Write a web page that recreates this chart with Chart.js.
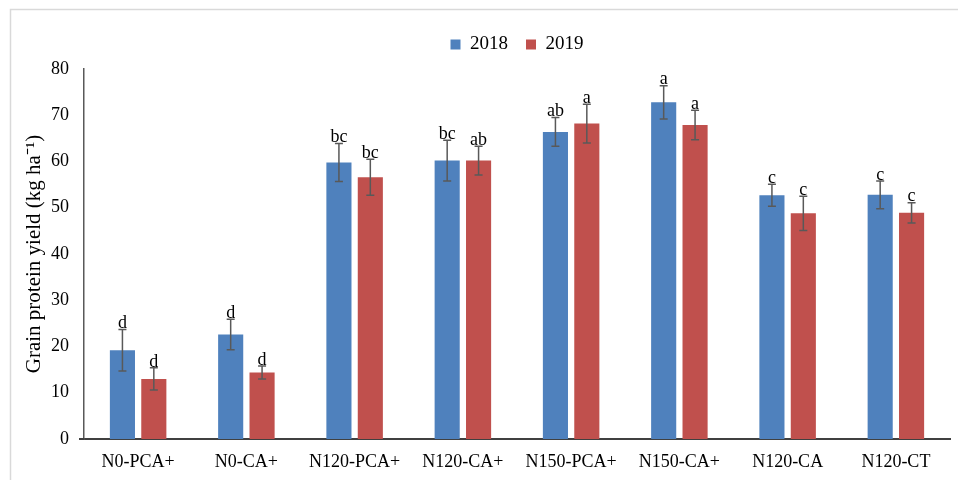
<!DOCTYPE html>
<html>
<head>
<meta charset="utf-8">
<script src="https://cdn.jsdelivr.net/npm/chart.js@4/dist/chart.umd.min.js"></script>
<style>
  html, body { margin: 0; padding: 0; background: #fff; }
  #wrap { width: 958px; height: 480px; }
</style>
</head>
<body>
<div id="wrap"><canvas id="draw-on-me" width="958" height="480"></canvas></div>
<script>
const treatments = ['N0-PCA+', 'N0-CA+', 'N120-PCA+', 'N120-CA+', 'N150-PCA+', 'N150-CA+', 'N120-CA', 'N120-CT']
const yield2018 = [19.2, 22.6, 59.8, 60.2, 66.4, 72.8, 52.7, 52.8]
const yield2019 = [13.0, 14.4, 56.6, 60.2, 68.2, 67.9, 48.8, 48.9]
const err2018 = [4.5, 3.3, 4.1, 4.4, 3.1, 3.6, 2.4, 3.0]
const err2019 = [2.4, 1.4, 3.9, 3.1, 4.2, 3.2, 3.7, 2.2]
const letters2018 = ['d', 'd', 'bc', 'bc', 'ab', 'a', 'c', 'c']
const letters2019 = ['d', 'd', 'bc', 'ab', 'a', 'a', 'c', 'c']
const yTicks = [0, 10, 20, 30, 40, 50, 60, 70, 80]

const serif = 'Liberation Serif'
const errs = [err2018, err2019]
const letters = [letters2018, letters2019]

// error bars + significance letters
const errorBars = {
  id: 'errorBars',
  afterDatasetsDraw(chart) {
    const c = chart.ctx
    const y = chart.scales.y
    c.save()
    chart.data.datasets.forEach((ds, di) => {
      chart.getDatasetMeta(di).data.forEach((bar, i) => {
        const v = ds.data[i], e = errs[di][i]
        const top = y.getPixelForValue(v + e)
        const bot = y.getPixelForValue(v - e)
        c.strokeStyle = '#595959'
        c.lineWidth = 1.5
        c.beginPath()
        c.moveTo(bar.x, top); c.lineTo(bar.x, bot)
        c.moveTo(bar.x - 4, top); c.lineTo(bar.x + 4, top)
        c.moveTo(bar.x - 4, bot); c.lineTo(bar.x + 4, bot)
        c.stroke()
        c.fillStyle = '#000'
        c.font = '18px "' + serif + '"'
        c.textAlign = 'center'
        c.textBaseline = 'bottom'
        c.fillText(letters[di][i], bar.x, top + 3)
      })
    })
    // x axis line runs a little left of the y axis, like a tick
    const a = chart.chartArea
    c.strokeStyle = '#404040'
    c.lineWidth = 2
    c.beginPath()
    c.moveTo(a.left - 5, a.bottom); c.lineTo(a.left, a.bottom)
    c.stroke()
    c.restore()
  }
}

// light frame like the exported figure, legend centred over the plot
const frame = {
  id: 'frame',
  afterLayout(chart) {
    const l = chart.legend, a = chart.chartArea
    l.left = a.left
    l.right = a.right
    l.width = a.right - a.left
    l.top -= 5
    l.bottom -= 5
  },
  beforeDraw(chart) {
    const c = chart.ctx
    c.save()
    c.fillStyle = '#fff'
    c.fillRect(0, 0, chart.width, chart.height)
    c.strokeStyle = '#d9d9d9'
    c.lineWidth = 1.5
    c.strokeRect(10.5, 9.5, 960, 480)
    c.restore()
  }
}

const ctx = document.getElementById('draw-on-me').getContext('2d')
const myChart = new Chart(ctx, {
  type: 'bar',
  data: {
    labels: treatments,
    datasets: [{
      label: '2018',
      data: yield2018,
      backgroundColor: '#4F81BD',
      borderWidth: 0
    }, {
      label: '2019',
      data: yield2019,
      backgroundColor: '#C0504D',
      borderWidth: 0
    }]
  },
  options: {
    responsive: false,
    animation: false,
    categoryPercentage: 0.58,
    barPercentage: 0.8,
    layout: { padding: { left: 22, right: 8, top: 22, bottom: 0 } },
    plugins: {
      legend: {
        position: 'top',
        labels: {
          boxWidth: 10,
          boxHeight: 10,
          padding: 18,
          color: '#000',
          font: { family: serif, size: 19 }
        }
      },
      tooltip: { enabled: false }
    },
    scales: {
      x: {
        grid: { display: false, drawTicks: false },
        border: { color: '#404040', width: 2 },
        ticks: { color: '#000', padding: 12, font: { family: serif, size: 18 }, maxRotation: 0 },
        afterFit: (s) => { s.height = 41 }
      },
      y: {
        min: 0,
        max: 80,
        afterBuildTicks: (s) => { s.ticks = yTicks.map(v => ({ value: v })) },
        grid: { display: false, drawOnChartArea: false, drawTicks: true, tickLength: 5, color: '#595959' },
        border: { color: '#595959', width: 1.5 },
        ticks: { color: '#000', padding: 10, font: { family: serif, size: 18 } },
        title: {
          display: true,
          text: 'Grain protein yield (kg ha⁻¹)',
          color: '#000',
          font: { family: serif, size: 21 },
          padding: { top: 0, bottom: 3 }
        },
        afterFit: (s) => { s.width = 62 }
      }
    }
  },
  plugins: [frame, errorBars]
})
</script>
</body>
</html>
